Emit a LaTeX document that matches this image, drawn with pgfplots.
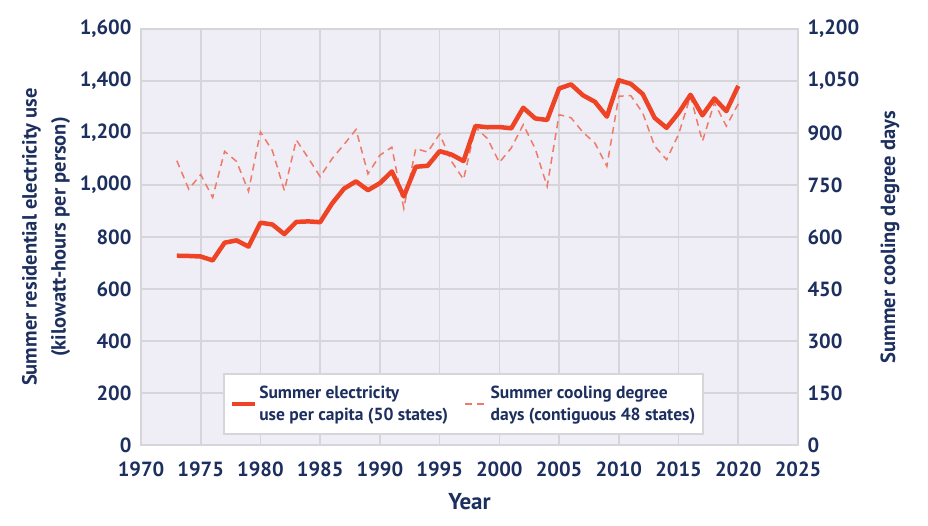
\documentclass[border=0pt]{standalone}
\usepackage{fontspec}
\setmainfont{PT Sans}
\usepackage{pgfplots}
\pgfplotsset{compat=1.18}
\definecolor{navy}{HTML}{1C2F5E}
\definecolor{bgc}{HTML}{EFEDF5}
\definecolor{gridc}{HTML}{D6D5DA}
\definecolor{elec}{HTML}{EE4425}
\definecolor{cdd}{HTML}{F07A6A}
\begin{document}
\begin{tikzpicture}
\path[use as bounding box] (-141pt,-81pt) rectangle (787pt,445pt);
\pgfplotsset{
  base/.style={
    scale only axis, width=657pt, height=416pt,
    xmin=1970, xmax=2025,
    xtick={1970,1975,...,2025},
    major tick length=0pt,
    tick style={draw=none},
    /pgf/number format/assume math mode=true,
    ticklabel style={font=\fontsize{20.5}{20.5}\selectfont\bfseries, text=navy},
    xticklabel style={/pgf/number format/1000 sep={}, yshift=-13pt},
    yticklabel style={/pgf/number format/1000 sep={,}},
    clip=false,
  }
}
\begin{axis}[base,
  ymin=0, ymax=1200, ytick={0,150,...,1200},
  yticklabel pos=right,
  yticklabel style={xshift=6pt},
  axis background/.style={fill=bgc},
  xmajorgrids, ymajorgrids,
  grid style={gridc, line width=1.6pt},
  axis line style={gridc, line width=1.6pt},
  xlabel={Year},
  xlabel style={font=\fontsize{23}{23}\selectfont\bfseries, text=navy, at={(axis description cs:0.5,-0.137)}, anchor=center},
  ylabel={Summer cooling degree days},
  ylabel style={font=\fontsize{20.5}{20.5}\selectfont\bfseries, text=navy, at={(axis description cs:1.14,0.5)}, anchor=center, rotate=0},
]
\addplot[cdd, line width=1.5pt, dash pattern=on 7pt off 5pt] coordinates {
(1973,820) (1974,738) (1975,780) (1976,714) (1977,847) (1978,818) (1979,732)
(1980,903) (1981,849) (1982,734) (1983,880) (1984,828) (1985,774) (1986,826)
(1987,867) (1988,910) (1989,782) (1990,836) (1991,859) (1992,683) (1993,855)
(1994,845) (1995,897) (1996,818) (1997,766) (1998,916) (1999,884) (2000,815)
(2001,857) (2002,924) (2003,855) (2004,746) (2005,953) (2006,944) (2007,902)
(2008,871) (2009,804) (2010,1006) (2011,1008) (2012,958) (2013,862) (2014,823)
(2015,896) (2016,1006) (2017,876) (2018,987) (2019,920) (2020,984)
};
\end{axis}
\begin{axis}[base,
  ymin=0, ymax=1600, ytick={0,200,...,1600},
  hide x axis,
  axis y line*=left,
  axis line style={draw=none},
  yticklabel pos=left,
  yticklabel style={xshift=-6pt},
  ylabel={Summer residential electricity use\\(kilowatt-hours per person)},
  ylabel style={font=\fontsize{20.5}{29}\selectfont\bfseries, text=navy, align=center, at={(axis description cs:-0.1446,0.5)}, anchor=center},
  legend columns=2,
  legend cell align=left,
  legend style={at={(axis description cs:0.1248,0.024)}, anchor=south west,
    draw=gridc, line width=1.6pt, fill=white,
    font=\fontsize{17.5}{22}\selectfont\bfseries, text=navy,
    nodes={align=left},
    inner xsep=6pt, inner ysep=10pt,
    /tikz/every even column/.append style={column sep=14pt}},
  legend image code/.code={\draw[#1] (0pt,0pt) -- (23pt,0pt);},
]
\addplot[elec, line width=4.5pt, line join=round] coordinates {
(1973,728) (1974,727) (1975,725) (1976,710) (1977,778) (1978,787) (1979,763)
(1980,855) (1981,848) (1982,811) (1983,858) (1984,860) (1985,857) (1986,929)
(1987,986) (1988,1014) (1989,980) (1990,1007) (1991,1052) (1992,956) (1993,1070)
(1994,1074) (1995,1130) (1996,1117) (1997,1092) (1998,1227) (1999,1222) (2000,1223)
(2001,1218) (2002,1297) (2003,1256) (2004,1250) (2005,1371) (2006,1387) (2007,1345)
(2008,1320) (2009,1263) (2010,1403) (2011,1389) (2012,1350) (2013,1258) (2014,1220)
(2015,1277) (2016,1347) (2017,1268) (2018,1333) (2019,1284) (2020,1381)
};
\addlegendentry{Summer electricity\\use per capita (50 states)}
\addlegendimage{cdd, line width=1.5pt, dash pattern=on 7pt off 5pt}
\addlegendentry{Summer cooling degree\\days (contiguous 48 states)}
\end{axis}
\end{tikzpicture}
\end{document}
